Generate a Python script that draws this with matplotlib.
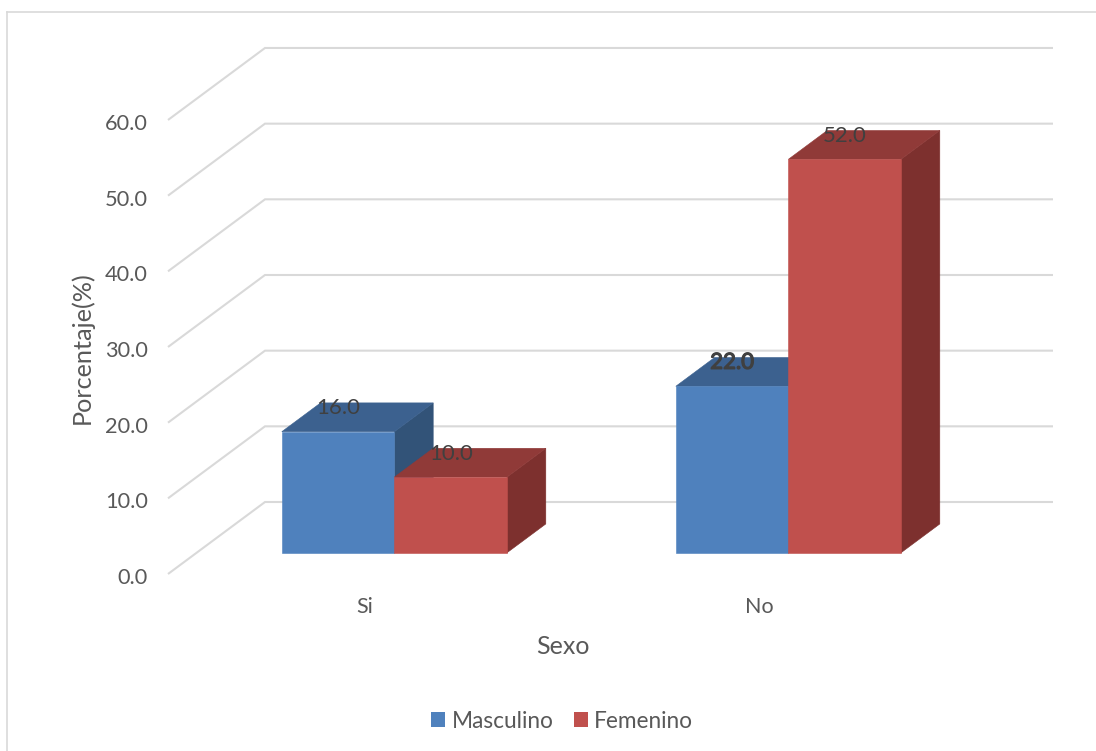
import matplotlib
matplotlib.use('Agg')
import matplotlib.pyplot as plt
import matplotlib.patheffects as pe
from matplotlib.patches import Patch, Polygon
from matplotlib.transforms import ScaledTranslation

plt.rcParams['font.family'] = ['Lato', 'DejaVu Sans']

categorias = ['Si', 'No']
masculino = [16.0, 22.0]
femenino = [10.0, 52.0]
yticks = [0, 10, 20, 30, 40, 50, 60]

W, H = 1096, 751
GRID = '#D9D9D9'
TEXT = '#595959'
LABEL = '#404040'

# oblique projection of the 3D box: how far a full unit of depth shifts things
DX = 97 / 394
DY = 72 / 7.567
BAR_W = 112.6 / 394
D0, D1 = 0.295, 0.695


def px(x, y):
    return x / W, 1 - y / H


def box(ax, x0, val, front, top, side):
    x1 = x0 + BAR_W
    def pt(x, y, d):
        return (x + d * DX, y + d * DY)
    ax.add_patch(Polygon([pt(x1, 0, D0), pt(x1, 0, D1), pt(x1, val, D1), pt(x1, val, D0)],
                         fc=side, ec=side, lw=0.4, zorder=3))
    ax.add_patch(Polygon([pt(x0, val, D0), pt(x1, val, D0), pt(x1, val, D1), pt(x0, val, D1)],
                         fc=top, ec=top, lw=0.4, zorder=3))
    ax.add_patch(Polygon([pt(x0, 0, D0), pt(x1, 0, D0), pt(x1, val, D0), pt(x0, val, D0)],
                         fc=front, ec=front, lw=0.4, zorder=3))
    return x0 + BAR_W / 2 + D0 * DX, val + D0 * DY


fig = plt.figure(figsize=(W / 100, H / 100), dpi=100)
left, bottom = px(168, 574)
right, top = px(1053, 47)
ax = fig.add_axes([left, bottom, right - left, top - bottom])
ax.set_xlim((168 - 365) / 394, (1053 - 365) / 394)
ax.set_ylim(0, 527 / 7.567)
for s in ax.spines.values():
    s.set_visible(False)

# chart frame, open on the right and bottom edges
fig.add_artist(plt.Line2D([7 / W, 7 / W], [0, 1 - 12 / H], color=GRID, lw=1.2))
fig.add_artist(plt.Line2D([7 / W, 1], [1 - 12 / H, 1 - 12 / H], color=GRID, lw=1.2))

# wall and floor grid lines
x_min, x_max = ax.get_xlim()
for v in yticks:
    ax.plot([x_min, x_min + DX, x_max], [v, v + DY, v + DY], color=GRID, lw=1.5,
            zorder=1, solid_joinstyle='miter', solid_capstyle='butt', clip_on=False)

labels = []
for i in range(len(categorias)):
    start = i + 0.002 - BAR_W
    labels.append((box(ax, start, masculino[i], '#4F81BD', '#3C618F', '#325378'), masculino[i]))
    labels.append((box(ax, start + BAR_W, femenino[i], '#C0504D', '#903A38', '#7D302E'), femenino[i]))

for (x, y), v in labels:
    t = ax.text(x, y + 3.1, '%.1f' % v, ha='center', va='center', fontsize=16,
                color=LABEL, zorder=5)
    # the 22.0 label is heavier than the others
    if v == 22.0:
        t.set_path_effects([pe.withStroke(linewidth=0.9, foreground=LABEL)])

ax.set_yticks(yticks, ['%.1f' % v for v in yticks])
ax.set_xticks(range(len(categorias)), categorias)
ax.tick_params(axis='y', length=0, pad=14.4, labelsize=15.7, labelcolor=TEXT)
ax.tick_params(axis='x', length=0, pad=16.8, labelsize=15.5, labelcolor=TEXT)
nudge = ScaledTranslation(0, -1.5 / 72, fig.dpi_scale_trans)
for lbl in ax.get_yticklabels():
    lbl.set_transform(lbl.get_transform() + nudge)

ax.set_ylabel('Porcentaje(%)', fontsize=18.2, color=TEXT)
ax.yaxis.set_label_coords((94 - 168) / 885, (574 - 348) / 527)
ax.set_xlabel('Sexo', fontsize=18, color=TEXT)
ax.xaxis.set_label_coords((562.5 - 168) / 885, (574 - 635.5) / 527)

handles = [Patch(fc='#4F81BD', label='Masculino'), Patch(fc='#C0504D', label='Femenino')]
fig.legend(handles=handles, loc='center', bbox_to_anchor=px(562, 721), ncol=2, frameon=False,
           fontsize=16.3, labelcolor=TEXT, handlelength=0.62, handleheight=0.62,
           handletextpad=0.26, columnspacing=0.9, borderpad=0, borderaxespad=0)

fig.savefig('out.png', dpi=100)
